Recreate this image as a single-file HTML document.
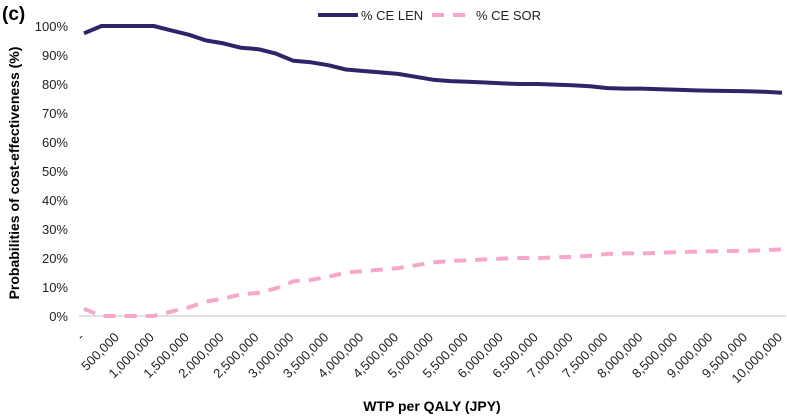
<!DOCTYPE html>
<html><head><meta charset="utf-8"><style>
body{margin:0;background:#fff;}
svg{display:block;font-family:"Liberation Sans",sans-serif;}
</style></head><body>
<svg id="c" width="787" height="416">
<text x="2" y="20" font-size="19" font-weight="bold">(c)</text>
<g>
<line x1="318" y1="15" x2="358" y2="15" stroke="#2e2468" stroke-width="4"/>
<text x="361" y="20" font-size="13" fill="#222">% CE LEN</text>
<line x1="432" y1="15" x2="472" y2="15" stroke="#f7a6cc" stroke-width="4" stroke-dasharray="12,9"/>
<text x="476" y="20" font-size="13" fill="#222">% CE SOR</text>
</g>
<text transform="translate(19,173) rotate(-90)" text-anchor="middle" font-size="14" font-weight="bold">Probabilities of cost-effectiveness (%)</text>
<text x="432" y="411" text-anchor="middle" font-size="14" font-weight="bold">WTP per QALY (JPY)</text>
<g id="yt"></g><g id="xt"></g><g id="series"></g>
</svg>
<script>
const xLabels=["-","500,000","1,000,000","1,500,000","2,000,000","2,500,000","3,000,000","3,500,000","4,000,000","4,500,000","5,000,000","5,500,000","6,000,000","6,500,000","7,000,000","7,500,000","8,000,000","8,500,000","9,000,000","9,500,000","10,000,000"];
const yTicks=[0,10,20,30,40,50,60,70,80,90,100];
const lenValues=[97.5,100,100,100,100,98.5,97,95,94,92.5,92,90.5,88,87.5,86.5,85,84.5,84,83.5,82.5,81.5,81,80.8,80.5,80.2,80,80,79.8,79.6,79.2,78.6,78.4,78.4,78.2,78,77.8,77.7,77.6,77.5,77.3,77];
const sorValues=[2.5,0,0,0,0,1.5,3,5,6,7.5,8,9.5,12,12.5,13.5,15,15.5,16,16.5,17.5,18.5,19,19.2,19.5,19.8,20,20,20.2,20.4,20.8,21.4,21.6,21.6,21.8,22,22.2,22.3,22.4,22.5,22.7,23];
const NS="http://www.w3.org/2000/svg";
const x0=84,x1=782,yb=316,yt=26;
const n=lenValues.length;
function xs(i){return x0+i*(x1-x0)/(n-1);}
function ys(v){return yb-(v/100)*(yb-yt);}
function mk(t,a,p){const e=document.createElementNS(NS,t);for(const k in a)e.setAttribute(k,a[k]);p.appendChild(e);return e;}
const yg=document.getElementById('yt');
yTicks.forEach(v=>{
 const t=mk('text',{x:68,y:ys(v)+5,'text-anchor':'end','font-size':13,fill:'#222'},yg);
 t.textContent=v+'%';
 
 
});
const base=mk('line',{x1:79,x2:786,y1:yb,y2:yb,stroke:'#d0d0d0','stroke-width':1.2},yg);


const xg=document.getElementById('xt');
xLabels.forEach((l,j)=>{
 const x=xs(j*2)+1,y=338;
 const t=mk('text',{x:x,y:y,'text-anchor':'end','font-size':13,fill:'#222',transform:`rotate(-45 ${x} ${y})`},xg);
 t.textContent=l;
 
 
});
const sg=document.getElementById('series');
function path(vals){return vals.map((v,i)=>(i?'L':'M')+xs(i).toFixed(1)+','+ys(v).toFixed(1)).join(' ');}
const ps=mk('path',{d:path(sorValues),fill:'none',stroke:'#f7a6cc','stroke-width':4,'stroke-dasharray':'12,9','stroke-linejoin':'round'},sg);


const pl=mk('path',{d:path(lenValues),fill:'none',stroke:'#2e2468','stroke-width':4,'stroke-linejoin':'round'},sg);


</script>
</body></html>
